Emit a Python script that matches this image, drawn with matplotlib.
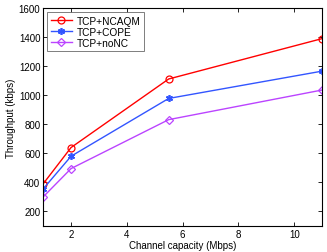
import matplotlib
matplotlib.use("Agg")
import matplotlib.pyplot as plt

plt.rcParams['font.family'] = ['Liberation Sans', 'DejaVu Sans']

# channel capacity (Mbps)
capacity = [1, 2, 5.5, 11]
# throughput (kbps)
ncaqm = [390, 640, 1112, 1390]
cope = [355, 580, 978, 1166]
nonc = [300, 495, 832, 1036]

labels = ['TCP+NCAQM', 'TCP+COPE', 'TCP+noNC']
colors = ['#ff0000', '#3355ff', '#bb44ff']

fig = plt.figure(figsize=(3.27, 2.53), dpi=100)
ax = fig.add_axes([0.132, 0.103, 0.853, 0.861])

ax.plot(capacity, ncaqm, color=colors[0], lw=1, marker='o', ms=5,
        mfc='none', mec=colors[0], mew=0.9, label=labels[0])
ax.plot(capacity, cope, color=colors[1], lw=1, marker=(6, 2, 0), ms=5,
        mec=colors[1], mew=1.2, label=labels[1])
ax.plot(capacity, nonc, color=colors[2], lw=1, marker='D', ms=4,
        mfc='none', mec=colors[2], mew=0.9, label=labels[2])

ax.set_xlim(1, 11)
ax.set_ylim(100, 1600)
ax.set_xticks([2, 4, 6, 8, 10])
ax.set_yticks([200, 400, 600, 800, 1000, 1200, 1400, 1600])
ax.tick_params(direction='in', top=True, right=True, labelsize=7,
               length=3, width=0.6, pad=2)
for s in ax.spines.values():
    s.set_linewidth(0.8)

ax.set_xlabel('Channel capacity (Mbps)', fontsize=7, labelpad=1)
ax.set_ylabel('Throughput (kbps)', fontsize=7, labelpad=2)

leg = ax.legend(loc='upper left', fontsize=7.3, fancybox=False,
                edgecolor='#444444', borderpad=0.35, handlelength=2.1,
                labelspacing=0.1, handletextpad=0.45, borderaxespad=0.4)
leg.get_frame().set_linewidth(0.6)

fig.savefig('out.png', dpi=100)
